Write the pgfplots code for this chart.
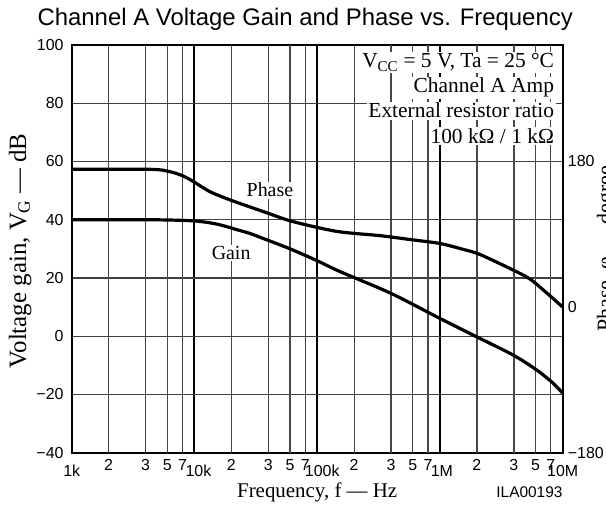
\documentclass[border=0pt]{standalone}
\usepackage{fontspec}
\setmainfont{Liberation Serif}
\newfontfamily\arial{Liberation Sans}
\usepackage{pgfplots}
\pgfplotsset{compat=1.18}
\begin{document}
\begin{tikzpicture}
\begin{axis}[
  name=main,
  scale only axis, width=491bp, height=407.7bp,
  xmode=log, log basis x=10, xmin=1e3, xmax=1e7,
  ymin=-40, ymax=100,
  xtick={1e3,1e4,1e5,1e6,1e7},
  xticklabels={1k,\hspace*{8bp}10k,\hspace*{10bp}100k,\hspace*{4bp}1M,10M},
  extra x ticks={2e3,4e3,6e3,8e3,2e4,4e4,6e4,8e4,2e5,4e5,6e5,8e5,2e6,4e6,6e6,8e6},
  extra x tick labels={2,3,5,7,2,3,5,7,2,3,5,7,2,3,5,7},
  extra x tick style={xmajorgrids=true, x grid style={black!72,line width=1.3bp}, xticklabel style={yshift=6bp}},
  ytick={-40,-20,0,20,40,60,80,100},
  yticklabels={−40,−20,0,20,40,60,80,100},
  xmajorgrids, ymajorgrids,
  x grid style={black,line width=2bp},
  y grid style={black!75,line width=1.3bp},
  major tick length=0pt, minor tick length=0pt,
  tick label style={font=\arial\fontsize{16}{18}\selectfont},
  xticklabel style={anchor=base, yshift=-24bp},
  yticklabel style={anchor=east, inner sep=0pt, xshift=-8bp},
  axis line style={black,line width=1.8bp},
]
\addplot[black, line width=3.2bp, smooth] coordinates {
(1000,40) (4350,40) (9800,39.6) (15200,38.5) (22100,36.6) (28300,35.3) (34100,34.0)
(59300,30.1) (99000,26.0) (144000,22.7) (223000,19.3) (325000,16.4) (473000,13.2)
(1000000,6.1) (1990000,-0.2) (3960000,-6.5) (6140000,-11.6) (8380000,-16.2) (10000000,-19.6)};
\node[fill=white, inner sep=1.5bp, font=\fontsize{20}{22}\selectfont] at (axis cs:41200,50.2) {Phase};
\node[fill=white, inner sep=1.5bp, font=\fontsize{20}{22}\selectfont] at (axis cs:19900,28.6) {Gain};
\end{axis}
\begin{axis}[
  scale only axis, width=491bp, height=407.7bp,
  xmode=log, log basis x=10, xmin=1e3, xmax=1e7,
  ymin=-180, ymax=324,
  axis x line=none,
  axis y line*=right,
  ytick={-180,0,180}, yticklabels={−180,0,180},
  major tick length=0pt, minor tick length=0pt,
  tick label style={font=\arial\fontsize{16}{18}\selectfont},
  yticklabel style={anchor=west, inner sep=0pt, xshift=5bp},
  axis line style={-,black,line width=1.8bp},
]
\addplot[black, line width=3.2bp, smooth] coordinates {
(1000,170.3) (4350,170.3) (6300,167.4) (8100,162) (9800,155.2) (13400,142.6) (19500,132.5)
(28300,123.8) (41200,115.2) (59300,106.9) (99000,98.6) (144000,93.6) (200000,91.1)
(325000,88.3) (607000,83.0) (1000000,78.6) (1550000,71.3) (2120000,65.0) (3960000,45.7)
(5420000,34.6) (7410000,17.5) (10000000,0)};
\node[anchor=base east, fill=white, inner sep=1.5bp, font=\fontsize{21.5}{24}\selectfont] at ([xshift=-7bp]rel axis cs:1,0.9436) {V\textsubscript{CC} = 5 V, Ta = 25 °C};
\node[anchor=base east, fill=white, inner sep=1.5bp, font=\fontsize{21.5}{24}\selectfont] at ([xshift=-7bp]rel axis cs:1,0.8823) {Channel A Amp};
\node[anchor=base east, fill=white, inner sep=1.5bp, font=\fontsize{21.5}{24}\selectfont] at ([xshift=-7bp]rel axis cs:1,0.821) {External resistor ratio};
\node[anchor=base east, fill=white, inner sep=1.5bp, font=\fontsize{21.5}{24}\selectfont] at ([xshift=-7bp]rel axis cs:1,0.7596) {100 kΩ / 1 kΩ};
\end{axis}
\node[rotate=90, anchor=north, inner sep=0pt, font=\fontsize{25}{28}\selectfont] at ([xshift=-63bp,yshift=-2bp]main.west) {Voltage gain, V\textsubscript{G} — dB};
\node[rotate=90, anchor=north, inner sep=0pt, font=\fontsize{22}{24}\selectfont] at ([xshift=34bp]main.east) {Phase, φ — degree};
\node[anchor=base, font=\fontsize{21}{24}\selectfont, inner sep=0pt] at ([yshift=-45bp]main.south) {Frequency, f — Hz};
\node[anchor=base east, font=\arial\fontsize{15.5}{17}\selectfont, inner sep=0pt] at ([yshift=-45bp]main.south east) {ILA00193};
\node[anchor=base, font=\arial\fontsize{24}{28}\selectfont, inner sep=0pt] at ([xshift=-12bp,yshift=19bp]main.north) {Channel A Voltage Gain and Phase vs. Frequency};
\pgfresetboundingbox
\path ([xshift=-71.7bp,yshift=-55.3bp]main.south west) rectangle ([xshift=43.3bp,yshift=45bp]main.north east);
\end{tikzpicture}
\end{document}
